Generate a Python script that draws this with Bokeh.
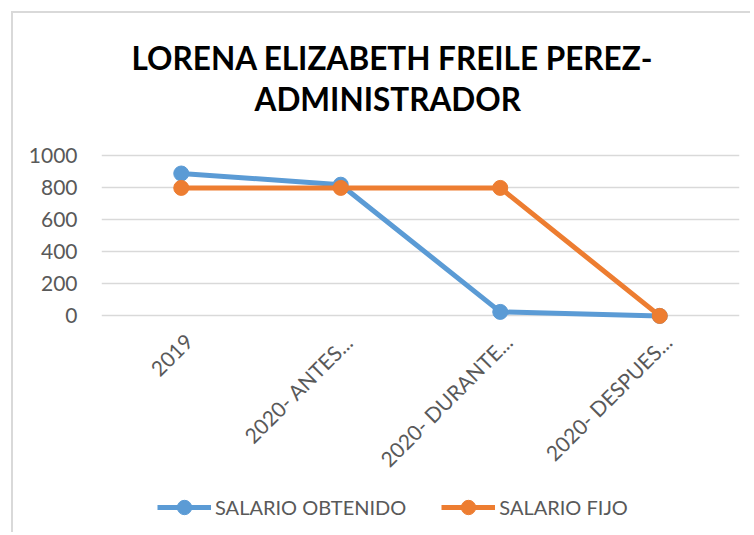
import math
from bokeh.plotting import figure
from bokeh.models import FactorRange, Range1d, Title, Legend, LegendItem, FixedTicker
from bokeh.core.properties import value
from bokeh.embed import file_html
from bokeh.resources import INLINE

categories = ["2019", "2020- ANTES...", "2020- DURANTE...", "2020- DESPUES..."]
salario_obtenido = [890, 820, 25, 0]
salario_fijo = [800, 800, 800, 0]
y_ticks = [0, 200, 400, 600, 800, 1000]
title_line1 = "LORENA ELIZABETH FREILE PEREZ-"
title_line2 = "ADMINISTRADOR"

BLUE = "#5B9BD5"
ORANGE = "#ED7D31"
TEXT = "#595959"
FONT = "Lato"

FRAME_H = 381
PX_PER_UNIT = 0.16
Y_TOP = 1040
Y_BOTTOM = Y_TOP - FRAME_H / PX_PER_UNIT

p = figure(
    x_range=FactorRange(*categories, range_padding=0),
    y_range=Range1d(Y_BOTTOM, Y_TOP),
    frame_width=638, frame_height=FRAME_H,
    output_backend="svg", toolbar_location=None,
    min_border_left=101, min_border_right=11,
    min_border_top=149, min_border_bottom=2,
)
p.border_fill_alpha = 0
p.styles = {
    "background-color": "white",
    "background-image": "linear-gradient(#d9d9d9, #d9d9d9), linear-gradient(#d9d9d9, #d9d9d9)",
    "background-size": "2px 100%, 100% 2px",
    "background-position": "11px 11px, 11px 11px",
    "background-repeat": "no-repeat",
}

p.outline_line_color = None
p.xgrid.grid_line_color = None
p.ygrid.grid_line_color = "#d9d9d9"
p.ygrid.grid_line_width = 1.5
p.yaxis.ticker = FixedTicker(ticks=y_ticks)
p.xaxis.visible = False

ya = p.yaxis[0]
ya.axis_line_color = None
ya.major_tick_line_color = None
ya.minor_tick_line_color = None
ya.major_tick_out = 0
ya.major_tick_in = 0
ya.major_label_text_font = FONT
ya.major_label_text_font_size = "21px"
ya.major_label_text_color = TEXT
ya.major_label_standoff = 24

# category labels, rotated 45 degrees, anchored on the category scale under the 0 line
p.text(x=categories, y=[y_ticks[0]] * len(categories), text=categories,
       angle=math.pi / 4, text_align="right", text_baseline="middle",
       x_offset=8, y_offset=22,
       text_font=value(FONT), text_font_size=value("21px"), text_color=TEXT)

l1 = p.line(categories, salario_obtenido, line_color=BLUE, line_width=5)
s1 = p.scatter(categories, salario_obtenido, size=15, fill_color=BLUE, line_color=BLUE)
l2 = p.line(categories, salario_fijo, line_color=ORANGE, line_width=5)
s2 = p.scatter(categories, salario_fijo, size=15, fill_color=ORANGE, line_color=ORANGE)

legend = Legend(
    items=[LegendItem(label="SALARIO OBTENIDO", renderers=[l1, s1]),
           LegendItem(label="SALARIO FIJO", renderers=[l2, s2])],
    orientation="horizontal", location=(56, 5),
    label_text_font=FONT, label_text_font_size="20px", label_text_color=TEXT,
    glyph_width=54, glyph_height=36, label_standoff=4, spacing=35,
    border_line_color=None, background_fill_alpha=0, margin=0, padding=0,
)
p.add_layout(legend, "center")

spacer = Title(text=" ", text_font_size="1px", standoff=29)
t2 = Title(text=title_line2, align="left", offset=153, text_font=FONT,
           text_font_size="31.5px", text_font_style="bold", text_color="black",
           standoff=0)
t1 = Title(text=title_line1, align="left", offset=30, text_font=FONT,
           text_font_size="31.5px", text_font_style="bold", text_color="black",
           standoff=2)
p.add_layout(spacer, "above")
p.add_layout(t2, "above")
p.add_layout(t1, "above")

open("out.html", "w").write(file_html(p, INLINE))
